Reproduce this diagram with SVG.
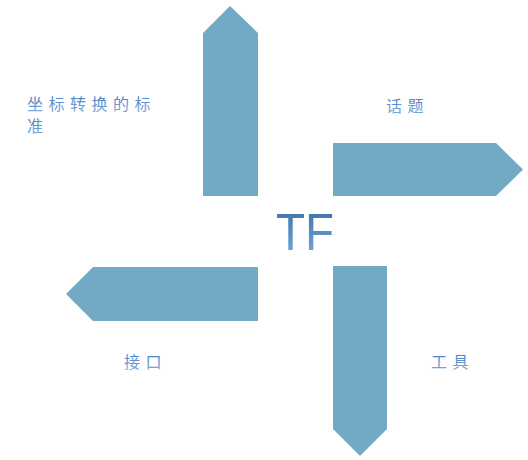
<svg xmlns="http://www.w3.org/2000/svg" width="528" height="460" viewBox="0 0 528 460">
<defs>
<linearGradient id="txtg" x1="0" y1="0" x2="0" y2="1">
<stop offset="0" stop-color="#3a74bd"/>
<stop offset="1" stop-color="#86b2e0"/>
</linearGradient>
<linearGradient id="tfg" x1="0" y1="0" x2="0" y2="1">
<stop offset="0" stop-color="#376ba6"/>
<stop offset="1" stop-color="#7eaede"/>
</linearGradient>
<style>
.arrow{fill:#72aac5}
.lbl{font-family:"Noto Sans CJK SC","Noto Sans CJK JP",sans-serif;font-size:16px;letter-spacing:5.5px;fill:url(#txtg)}
.tf{font-family:"Liberation Sans","DejaVu Sans",sans-serif;font-size:52px;fill:url(#tfg)}
</style>
</defs>
<g id="connectors">
<polygon id="arrow-up" class="arrow" points="203,196 203,33 230,6 258,33 258,196"/>
<polygon id="arrow-right" class="arrow" points="333,143 496,143 523,169.5 496,196 333,196"/>
<polygon id="arrow-left" class="arrow" points="258,267 93,267 66,294 93,321 258,321"/>
<polygon id="arrow-down" class="arrow" points="333,266 387,266 387,429 360,456 333,429"/>
</g>
<g id="node-tf">
<text class="tf" x="276" y="250" textLength="58" lengthAdjust="spacingAndGlyphs">TF</text>
</g>
<g id="node-coord">
<text class="lbl" x="27" y="110">坐标转换的标</text>
<text class="lbl" x="27" y="132">准</text>
</g>
<g id="node-topic">
<text class="lbl" x="386" y="112">话题</text>
</g>
<g id="node-interface">
<text class="lbl" x="124" y="368">接口</text>
</g>
<g id="node-tools">
<text class="lbl" x="431" y="368">工具</text>
</g>
</svg>
